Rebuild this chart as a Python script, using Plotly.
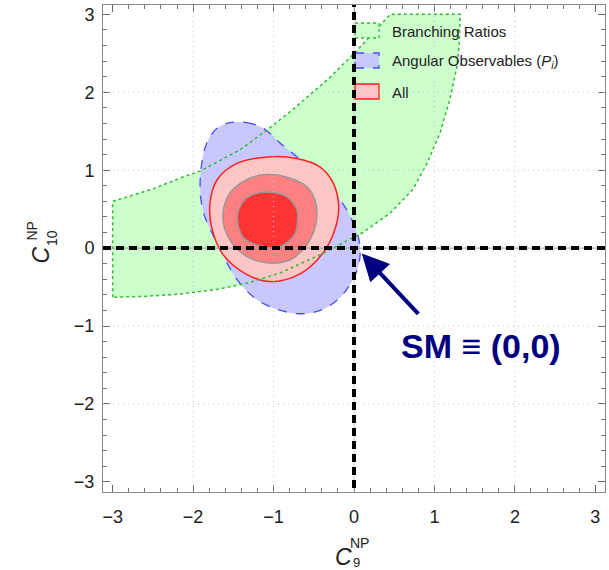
import plotly.graph_objects as go

# Branching-ratio allowed band (closed outline, C9 / C10 pairs)
br_x = [-3.0, -3.0, -2.5, -2.16, -1.91, -1.42, -1.1, -0.76, -0.30, 0.05, 0.45,
        1.32, 1.31, 1.28, 1.19, 1.07, 0.91, 0.73, 0.45, 0.11, -0.39, -0.92,
        -1.33, -1.7, -2.16, -2.6, -3.0]
br_y = [-0.63, 0.60, 0.76, 0.90, 0.99, 1.26, 1.50, 1.78, 2.19, 2.55, 3.0,
        3.0, 2.64, 2.33, 1.90, 1.48, 1.09, 0.75, 0.45, 0.20, -0.07, -0.32,
        -0.45, -0.53, -0.59, -0.62, -0.63]

# Angular observables (P_i) allowed region
ao_x = [-1.54, -1.33, -1.13, -0.92, -0.42, -0.09, 0.07, 0.04, -0.17, -0.42,
        -0.71, -1.13, -1.42, -1.70, -1.88, -1.91, -1.83, -1.70, -1.54]
ao_y = [1.61, 1.61, 1.54, 1.35, 0.91, 0.49, 0.06, -0.28, -0.63, -0.80,
        -0.84, -0.71, -0.45, 0.06, 0.49, 0.91, 1.35, 1.54, 1.61]

# Combined fit: 3, 2 and 1 sigma contours
all3_x = [-1.08, -0.71, -0.42, -0.26, -0.19, -0.24, -0.39, -0.67, -1.04,
          -1.33, -1.63, -1.77, -1.79, -1.70, -1.45, -1.08]
all3_y = [1.17, 1.15, 1.04, 0.84, 0.53, 0.23, -0.07, -0.33, -0.43,
          -0.34, -0.08, 0.27, 0.58, 0.88, 1.09, 1.17]

all2_x = [-1.13, -0.80, -0.55, -0.46, -0.55, -0.76, -0.96, -1.29, -1.54,
          -1.63, -1.54, -1.35, -1.13]
all2_y = [0.94, 0.90, 0.75, 0.45, 0.10, -0.13, -0.19, -0.13, 0.10,
          0.40, 0.71, 0.87, 0.94]

all1_x = [-1.08, -0.84, -0.71, -0.70, -0.73, -0.88, -1.00, -1.21, -1.38,
          -1.45, -1.39, -1.27, -1.08]
all1_y = [0.72, 0.66, 0.49, 0.39, 0.19, 0.04, 0.00, 0.04, 0.14,
          0.39, 0.58, 0.68, 0.72]

x_ticks = [-3, -2, -1, 0, 1, 2, 3]
y_ticks = [-3, -2, -1, 0, 1, 2, 3]
grid_vals = [-2, -1, 1, 2]

legend_labels = ["Branching Ratios",
                 "Angular Observables (<i>P</i><sub><i>i</i></sub>)",
                 "All"]

GREEN_FILL, GREEN_LINE = "#ccffcc", "#33bb33"
BLUE_FILL, BLUE_LINE = "#c8c8ff", "#4a4aff"
PINK_FILL, RED_LINE = "#ffc6c6", "#ff2020"
MID_FILL, CORE_FILL, GREY_LINE = "#ff8080", "#ff3535", "#999999"
NAVY = "#000080"
FONT = "Liberation Sans, Arial, Helvetica, sans-serif"

XR = [-3.12, 3.12]
YR = [-3.13, 3.12]

fig = go.Figure()

fig.add_trace(go.Scatter(x=br_x, y=br_y, fill="toself", fillcolor=GREEN_FILL,
                         mode="lines", line=dict(width=0, color=GREEN_FILL),
                         hoverinfo="skip"))
fig.add_trace(go.Scatter(x=ao_x, y=ao_y, fill="toself", fillcolor=BLUE_FILL,
                         mode="lines", line_shape="spline",
                         line=dict(color=BLUE_LINE, width=1.3, dash="dash"),
                         hoverinfo="skip"))
fig.add_trace(go.Scatter(x=all3_x, y=all3_y, fill="toself", fillcolor=PINK_FILL,
                         mode="lines", line_shape="spline",
                         line=dict(color=RED_LINE, width=1.5),
                         hoverinfo="skip"))
fig.add_trace(go.Scatter(x=all2_x, y=all2_y, fill="toself", fillcolor=MID_FILL,
                         mode="lines", line_shape="spline",
                         line=dict(color=GREY_LINE, width=1.5),
                         hoverinfo="skip"))
fig.add_trace(go.Scatter(x=all1_x, y=all1_y, fill="toself", fillcolor=CORE_FILL,
                         mode="lines", line_shape="spline",
                         line=dict(color=GREY_LINE, width=1.5),
                         hoverinfo="skip"))
# dotted outline of the branching-ratio band on top of the other regions
fig.add_trace(go.Scatter(x=br_x, y=br_y, mode="lines",
                         line=dict(color=GREEN_LINE, width=1.5, dash="dot"),
                         hoverinfo="skip"))

shapes = []
GRID = dict(color="#c4c4c4", width=1, dash="1px,4px")
# dotted grid drawn over the filled regions
for v in grid_vals:
    shapes.append(dict(type="line", xref="x", yref="paper", x0=v, x1=v, y0=0, y1=1,
                       line=GRID, layer="above"))
    shapes.append(dict(type="line", xref="paper", yref="y", x0=0, x1=1, y0=v, y1=v,
                       line=GRID, layer="above"))
# thin zero lines
shapes.append(dict(type="line", xref="paper", yref="y", x0=0, x1=1, y0=0, y1=0,
                   line=dict(color="#999999", width=1), layer="above"))
shapes.append(dict(type="line", xref="x", yref="paper", x0=0, x1=0, y0=0, y1=1,
                   line=dict(color="#cccccc", width=1), layer="above"))

# legend keys (pixel positions inside the plotting area)
PX0, PX1, PY0, PY1 = 103, 605, 5, 492


def px_x(p):
    return (p - PX0) / (PX1 - PX0)


def px_y(p):
    return (PY1 - p) / (PY1 - PY0)


legend_styles = [
    (GREEN_FILL, GREEN_LINE, "dot"),
    (BLUE_FILL, BLUE_LINE, "dash"),
    (PINK_FILL, RED_LINE, "solid"),
]
legend_rows = [23, 53, 84]
for (fc, lc, ds), top in zip(legend_styles, legend_rows):
    shapes.append(dict(type="rect", xref="paper", yref="paper",
                       x0=px_x(355), x1=px_x(379), y0=px_y(top + 15), y1=px_y(top),
                       fillcolor=fc, line=dict(color=lc, width=1.3, dash=ds),
                       layer="above"))

# SM reference lines
shapes.append(dict(type="line", xref="paper", yref="y", x0=0, x1=1, y0=0, y1=0,
                   line=dict(color="black", width=4, dash="8px,5px"), layer="above"))
shapes.append(dict(type="line", xref="x", yref="paper", x0=0, x1=0,
                   y0=px_y(488), y1=1,
                   line=dict(color="black", width=4, dash="8px,5px"), layer="above"))

annotations = []
for label, top in zip(legend_labels, legend_rows):
    annotations.append(dict(xref="paper", yref="paper", x=px_x(390), y=px_y(top + 8),
                            xanchor="left", yanchor="middle", text=label,
                            showarrow=False,
                            font=dict(family=FONT, size=15, color="#222222")))

# arrow pointing at the SM point
annotations.append(dict(x=0.096, y=-0.068, xref="x", yref="y", text="",
                        showarrow=True, arrowhead=2, arrowsize=1.35, arrowwidth=4,
                        arrowcolor=NAVY, ax=58, ay=62))
annotations.append(dict(x=px_x(481), y=px_y(346), xref="paper", yref="paper",
                        text="<b>SM \u2261 (0,0)</b>", showarrow=False,
                        xanchor="center", yanchor="middle",
                        font=dict(family=FONT, size=34, color=NAVY)))

# axis titles: C with stacked super/subscripts
annotations.append(dict(xref="paper", yref="paper", x=px_x(333), y=px_y(557),
                        xanchor="left", yanchor="middle", text="<i>C</i>",
                        showarrow=False, font=dict(family=FONT, size=23, color="#222")))
annotations.append(dict(xref="paper", yref="paper", x=px_x(348), y=px_y(543),
                        xanchor="left", yanchor="middle", text="NP",
                        showarrow=False, font=dict(family=FONT, size=14, color="#222")))
annotations.append(dict(xref="paper", yref="paper", x=px_x(351), y=px_y(562),
                        xanchor="left", yanchor="middle", text="9",
                        showarrow=False, font=dict(family=FONT, size=13, color="#222")))

annotations.append(dict(xref="paper", yref="paper", x=px_x(40), y=px_y(266),
                        xanchor="center", yanchor="bottom", text="<i>C</i>",
                        textangle=-90, showarrow=False,
                        font=dict(family=FONT, size=23, color="#222")))
annotations.append(dict(xref="paper", yref="paper", x=px_x(31), y=px_y(243),
                        xanchor="center", yanchor="bottom", text="NP",
                        textangle=-90, showarrow=False,
                        font=dict(family=FONT, size=14, color="#222")))
annotations.append(dict(xref="paper", yref="paper", x=px_x(52), y=px_y(248),
                        xanchor="center", yanchor="bottom", text="10",
                        textangle=-90, showarrow=False,
                        font=dict(family=FONT, size=14, color="#222")))

axis_common = dict(
    showgrid=False, zeroline=False,
    showline=True, linecolor="#888888", linewidth=1, mirror="ticks",
    ticks="inside", ticklen=7, tickwidth=1, tickcolor="#666666",
    tickfont=dict(family=FONT, size=18, color="#222222"),
    minor=dict(dtick=0.2, ticks="inside", ticklen=4, tickcolor="#777777",
               showgrid=False),
)

fig.update_layout(
    width=609, height=570,
    margin=dict(l=PX0, r=609 - PX1, t=PY0, b=570 - PY1),
    paper_bgcolor="white", plot_bgcolor="white",
    showlegend=False,
    xaxis=dict(range=XR, tickvals=x_ticks, ticklabelstandoff=8, **axis_common),
    yaxis=dict(range=YR, tickvals=y_ticks, ticklabelstandoff=4, **axis_common),
    shapes=shapes,
    annotations=annotations,
)

fig.write_html("out.html")
